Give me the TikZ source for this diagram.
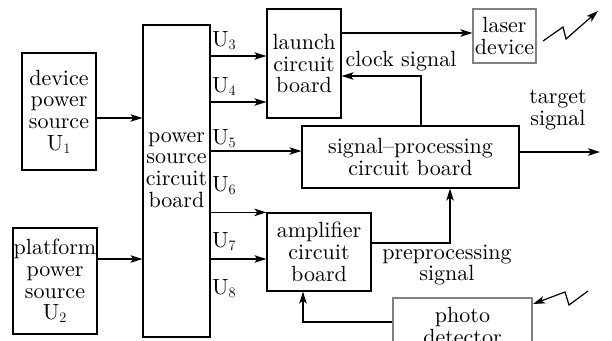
\documentclass[tikz,border=0pt]{standalone}
\usepackage{fontspec}
\setmainfont{lmroman10-regular.otf}
\usetikzlibrary{arrows.meta}
\begin{document}
\begin{tikzpicture}[x=1pt,y=-1pt,
  every node/.style={font=\fontsize{22}{21.7}\selectfont, inner sep=0pt},
  box/.style={draw, line width=1.2pt, rectangle, align=center},
  graybox/.style={draw=black!50, line width=1.2pt, rectangle, align=center},
  txt/.style={align=center},
  arr/.style={line width=1.2pt, -{Stealth[length=12pt,width=7.5pt,inset=3pt]}},
  ln/.style={line width=1.2pt}]
\useasboundingbox (0,0) rectangle (612,340);
\clip (0,0) rectangle (612,340);
% boxes
\node[box, minimum width=74, minimum height=117] (dev) at (59,111.5) {device\\power\\source\\U$_1$};
\node[box, minimum width=84, minimum height=106] (plat) at (55,281) {platform\\power\\source\\U$_2$};
\node[box, minimum width=67, minimum height=312] (pwr) at (176.5,181) {};
\node[txt] (pwrtxt) at (176.5,170) {power\\source\\circuit\\board};
\node[box, minimum width=74, minimum height=109] (launch) at (304,63.5) {launch\\circuit\\board};
\node[box, minimum width=217, minimum height=62] (sig) at (410.5,157) {signal--processing\\circuit board};
\node[graybox, minimum width=63, minimum height=54] (laser) at (504.5,36) {laser\\device};
\node[box, minimum width=104, minimum height=78] (amp) at (319,252) {amplifier\\circuit\\board};
\node[graybox, minimum width=139, minimum height=62] (photo) at (462.5,329) {};
\node[txt] (phototxt) at (462.5,326) {photo\\detector};
% U labels
\node[anchor=base west] (u3) at (212,46) {U$_3$};
\node[anchor=base west] (u4) at (212,92) {U$_4$};
\node[anchor=base west] (u5) at (212,144) {U$_5$};
\node[anchor=base west] (u6) at (212,191) {U$_6$};
\node[anchor=base west] (u7) at (212,247) {U$_7$};
\node[anchor=base west] (u8) at (212,294) {U$_8$};
% other labels
\node[txt] (clk) at (401,61) {clock signal};
\node[txt] (tgt) at (558,110) {target\\signal};
\node[txt] (pre) at (447,265) {preprocessing\\signal};
% coordinates
\coordinate (tgtend) at (600,152);
\coordinate (clkup) at (421,76);
\coordinate (precorner) at (450,243);
\coordinate (photocorner) at (303,322);
\coordinate (l1a) at (543,41);
\coordinate (l1b) at (563,27);
\coordinate (l1c) at (566,39);
\coordinate (l1d) at (598,11);
\coordinate (l2a) at (588,291);
\coordinate (l2b) at (569,305);
\coordinate (l2c) at (565,292);
\coordinate (l2d) at (533,304);
% connectors
\draw[arr] (dev.east |- 0,118) -- (pwr.west |- 0,118);
\draw[arr] (plat.east |- 0,259) -- (pwr.west |- 0,259);
\draw[arr] (pwr.east |- 0,56) -- (launch.west |- 0,56);
\draw[arr] (pwr.east |- 0,102) -- (launch.west |- 0,102);
\draw[arr] (pwr.east |- 0,151) -- (sig.west |- 0,151);
\draw[arr] (pwr.east |- amp.north) -- (amp.north west);
\draw[arr] (pwr.east |- 0,259) -- (amp.west |- 0,259);
\draw[arr] (launch.east |- 0,33) -- (laser.west |- 0,33);
\draw[arr] (sig.north -| clkup) -- (clkup) -- (launch.east |- clkup);
\draw[arr] (sig.east |- tgtend) -- (tgtend);
\draw[arr] (amp.east |- precorner) -- (precorner) -- (sig.south -| precorner);
\draw[arr] (photo.west |- photocorner) -- (photocorner) -- (amp.south -| photocorner);
\draw[arr] (l1a) -- (l1b) -- (l1c) -- (l1d);
\draw[arr] (l2a) -- (l2b) -- (l2c) -- (l2d);
\end{tikzpicture}
\end{document}
